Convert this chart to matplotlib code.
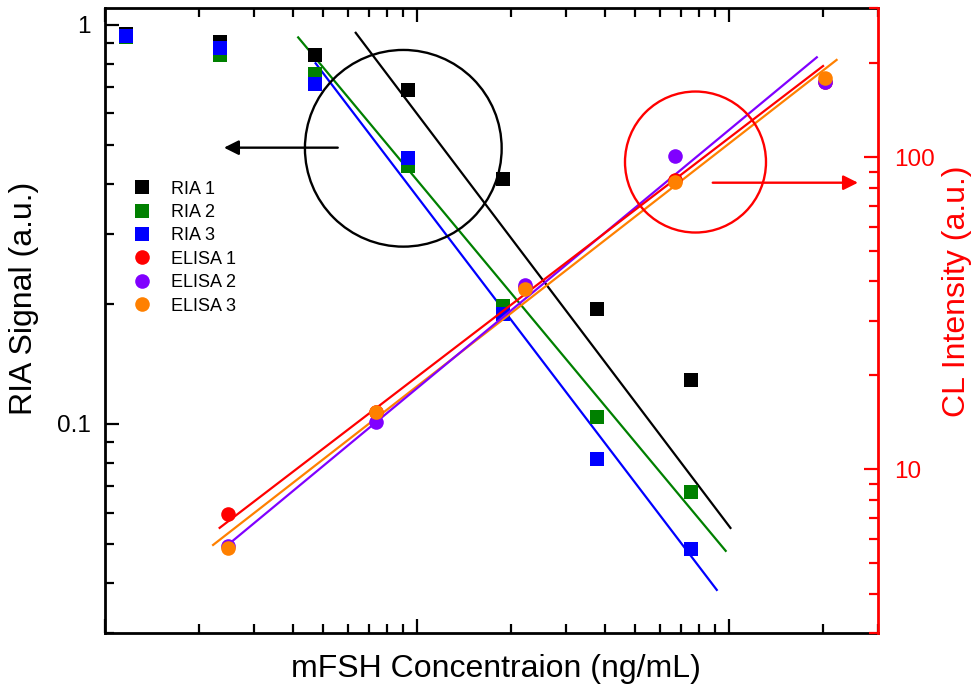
import matplotlib
matplotlib.use("Agg")
import matplotlib.pyplot as plt
from matplotlib.patches import Ellipse
from matplotlib.ticker import FixedLocator, FuncFormatter, NullFormatter, LogLocator

plt.rcParams['font.family'] = ['Liberation Sans', 'DejaVu Sans']

# ---------------- data ----------------
ria_x = [1.17, 2.33, 4.70, 9.34, 18.8, 37.7, 75.4]
ria1 = [0.948, 0.907, 0.840, 0.687, 0.410, 0.194, 0.129]
ria2 = [0.932, 0.840, 0.752, 0.443, 0.198, 0.104, 0.0676]
ria3 = [0.937, 0.873, 0.710, 0.463, 0.189, 0.0817, 0.0486]

elisa_x = [2.48, 7.41, 22.2, 67.0, 203]
elisa1 = [7.18, 15.3, 38.4, 84.5, 174]
elisa2 = [5.69, 14.2, 39.0, 101, 174]
elisa3 = [5.59, 15.3, 37.8, 83.5, 179]

# fitted lines (end points)
fit_ria1_x, fit_ria1_y = [6.36, 101], [0.955, 0.0549]
fit_ria2_x, fit_ria2_y = [4.16, 97.5], [0.930, 0.0481]
fit_ria3_x, fit_ria3_y = [4.73, 91.3], [0.801, 0.0384]
fit_el1_x, fit_el1_y = [2.33, 200], [6.50, 196]
fit_el2_x, fit_el2_y = [2.51, 191], [5.80, 209]
fit_el3_x, fit_el3_y = [2.22, 221], [5.73, 205]

labels_ria = ['RIA 1', 'RIA 2', 'RIA 3']
labels_elisa = ['ELISA 1', 'ELISA 2', 'ELISA 3']

c_black, c_green, c_blue = 'black', '#008000', '#0000FF'
c_red, c_purple, c_orange = '#FF0000', '#8000FF', '#FF8000'

# ---------------- figure ----------------
W, H = 974, 694
fig = plt.figure(figsize=(W / 100, H / 100), dpi=100)
L, R, T, B = 105, 878, 8.3, 632.7
ax = fig.add_axes([L / W, (H - B) / H, (R - L) / W, (B - T) / H])
ax2 = ax.twinx()

ax.set_xscale('log')
ax.set_yscale('log')
ax2.set_yscale('log')
ax.set_xlim(1, 300)
ax.set_ylim(0.03, 1.1)
ax2.set_ylim(3, 300)

lw_fit = 1.6
ax.plot(fit_ria1_x, fit_ria1_y, color=c_black, lw=lw_fit, zorder=2)
ax.plot(fit_ria2_x, fit_ria2_y, color=c_green, lw=lw_fit, zorder=2)
ax.plot(fit_ria3_x, fit_ria3_y, color=c_blue, lw=lw_fit, zorder=2)

ms_sq, ms_ci = 9.5, 10.5
h_r1, = ax.plot(ria_x, ria1, 's', color=c_black, ms=ms_sq, mew=0, zorder=3)
h_r2, = ax.plot(ria_x, ria2, 's', color=c_green, ms=ms_sq, mew=0, zorder=3)
h_r3, = ax.plot(ria_x, ria3, 's', color=c_blue, ms=ms_sq, mew=0, zorder=3)

ax2.plot(fit_el3_x, fit_el3_y, color=c_orange, lw=lw_fit, zorder=2)
ax2.plot(fit_el2_x, fit_el2_y, color=c_purple, lw=lw_fit, zorder=2)
ax2.plot(fit_el1_x, fit_el1_y, color=c_red, lw=lw_fit, zorder=2)
h_e1, = ax2.plot(elisa_x, elisa1, 'o', color=c_red, ms=ms_ci, mew=0, zorder=3)
h_e2, = ax2.plot(elisa_x, elisa2, 'o', color=c_purple, ms=ms_ci, mew=0, zorder=3)
h_e3, = ax2.plot(elisa_x, elisa3, 'o', color=c_orange, ms=ms_ci, mew=0, zorder=3)

# ---------------- ticks & spines ----------------
spine_w = 2.0
for s in ax.spines.values():
    s.set_linewidth(spine_w)
for s in ax2.spines.values():
    s.set_linewidth(spine_w)
ax.spines['right'].set_visible(False)
ax2.spines['left'].set_visible(False)
ax2.spines['top'].set_visible(False)
ax2.spines['bottom'].set_visible(False)
ax2.spines['right'].set_color(c_red)

ax.xaxis.set_major_locator(LogLocator(base=10, numticks=10))
ax.xaxis.set_minor_locator(LogLocator(base=10, subs=range(2, 10), numticks=20))
ax.yaxis.set_major_locator(FixedLocator([0.1, 1]))
ax.yaxis.set_minor_locator(LogLocator(base=10, subs=range(2, 10), numticks=20))
ax.yaxis.set_major_formatter(FuncFormatter(lambda v, p: f'{v:g}'))
ax.yaxis.set_minor_formatter(NullFormatter())
ax.xaxis.set_minor_formatter(NullFormatter())

ax2.yaxis.set_major_locator(FixedLocator([10, 100]))
ax2.yaxis.set_minor_locator(LogLocator(base=10, subs=range(2, 10), numticks=20))
ax2.yaxis.set_major_formatter(FuncFormatter(lambda v, p: f'{v:g}'))
ax2.yaxis.set_minor_formatter(NullFormatter())

ax.tick_params(which='both', direction='in', top=True, bottom=True, left=True,
               right=False, labelbottom=False, width=1.6, color='black')
ax.tick_params(which='major', length=10, labelsize=17.5, pad=10.5)
ax.tick_params(which='minor', length=6.2)
ax2.tick_params(which='both', direction='in', width=1.6, colors=c_red)
ax2.tick_params(which='major', length=10, labelsize=17.5, pad=11.5)
ax2.tick_params(which='minor', length=6.2)

# ---------------- annotations ----------------
ax.add_patch(Ellipse((0.3859, 0.7758), 0.2545, 0.3150, transform=ax.transAxes,
                     fill=False, edgecolor='black', lw=1.7, zorder=4))
ax2.add_patch(Ellipse((0.7639, 0.7538), 0.1824, 0.2258, transform=ax2.transAxes,
                      fill=False, edgecolor=c_red, lw=1.7, zorder=4))
ax.annotate('', xy=(0.1539, 0.7768), xytext=(0.3011, 0.7768),
            xycoords='axes fraction', textcoords='axes fraction',
            arrowprops=dict(arrowstyle='-|>', color='black', lw=1.7,
                            mutation_scale=22, shrinkA=0, shrinkB=0))
ax2.annotate('', xy=(0.9741, 0.7207), xytext=(0.7862, 0.7207),
             xycoords='axes fraction', textcoords='axes fraction',
             arrowprops=dict(arrowstyle='-|>', color=c_red, lw=1.7,
                             mutation_scale=22, shrinkA=0, shrinkB=0),
             annotation_clip=False)

# ---------------- legend ----------------
leg = ax2.legend([h_r1, h_r2, h_r3, h_e1, h_e2, h_e3], labels_ria + labels_elisa,
                 loc='upper left', bbox_to_anchor=(133 / W, (H - 180.5) / H),
                 bbox_transform=fig.transFigure, frameon=False, fontsize=13,
                 handlelength=1.0, handletextpad=1.09, labelspacing=0.355,
                 borderpad=0, borderaxespad=0, numpoints=1)

# ---------------- axis labels ----------------
fig.text(495.5 / W, (H - 669) / H, 'mFSH Concentraion (ng/mL)', ha='center',
         va='center', fontsize=23)
fig.text(24 / W, (H - 298.5) / H, 'RIA Signal (a.u.)', ha='center', va='center',
         rotation=90, fontsize=23)
fig.text(957 / W, (H - 291) / H, 'CL Intensity (a.u.)', ha='center', va='center',
         rotation=90, fontsize=23, color=c_red)

fig.savefig('out.png', dpi=100)
